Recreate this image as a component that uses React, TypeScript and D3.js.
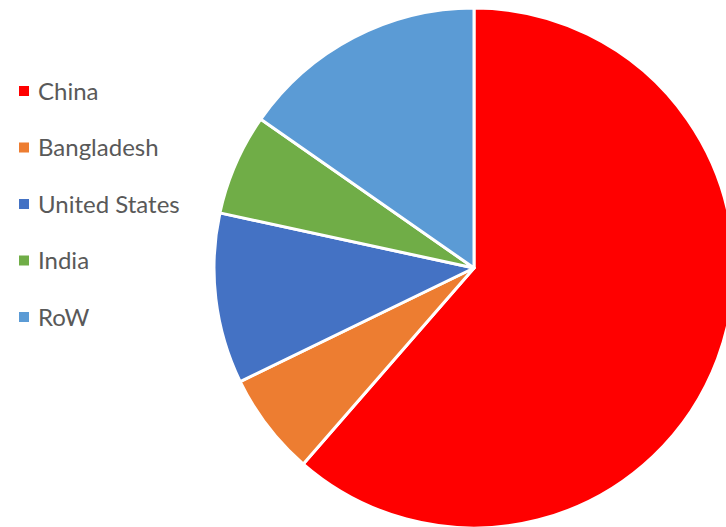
import { useEffect, useRef } from "react"
import * as d3 from "d3"

const categories = ["China", "Bangladesh", "United States", "India", "RoW"]
const values = [61.4, 6.4, 10.6, 6.3, 15.3]
const colors = ["#ff0000", "#ed7d31", "#4472c4", "#70ad47", "#5b9bd5"]

export default function App() {
  const svgRef = useRef<SVGSVGElement>(null)

  useEffect(() => {
    if (!svgRef.current) return
    const svg = d3.select(svgRef.current)
    svg.selectAll("*").remove()

    const cx = 474
    const cy = 268
    const radius = 260

    const pie = d3
      .pie<number>()
      .sort(null)
      .value((d) => d)
    const arc = d3.arc<d3.PieArcDatum<number>>().innerRadius(0).outerRadius(radius)

    const g = svg.append("g").attr("transform", `translate(${cx}, ${cy})`)
    g.selectAll("path")
      .data(pie(values))
      .join("path")
      .attr("d", arc)
      .attr("fill", (_, i) => colors[i])
      .attr("stroke", "white")
      .attr("stroke-width", 3)
      .attr("stroke-linejoin", "round")

    // Legend
    const legend = svg.append("g")
    const y = d3.scalePoint<string>().domain(categories).range([91, 317])
    const items = legend
      .selectAll("g")
      .data(categories)
      .join("g")
      .attr("transform", (d) => `translate(0, ${y(d)})`)
    items
      .append("rect")
      .attr("x", 19)
      .attr("y", -5)
      .attr("width", 10)
      .attr("height", 10)
      .attr("fill", (_, i) => colors[i])
    items
      .append("text")
      .attr("x", 38)
      .attr("y", 0)
      .attr("dy", "0.36em")
      .attr("font-family", "Lato, sans-serif")
      .attr("font-size", "24px")
      .attr("fill", "#595959")
      .text((d) => d)
  }, [])

  return (
    <svg
      ref={svgRef}
      width={726}
      height={527}
      style={{ position: "absolute", left: 0, top: 0, display: "block" }}
    />
  )
}
